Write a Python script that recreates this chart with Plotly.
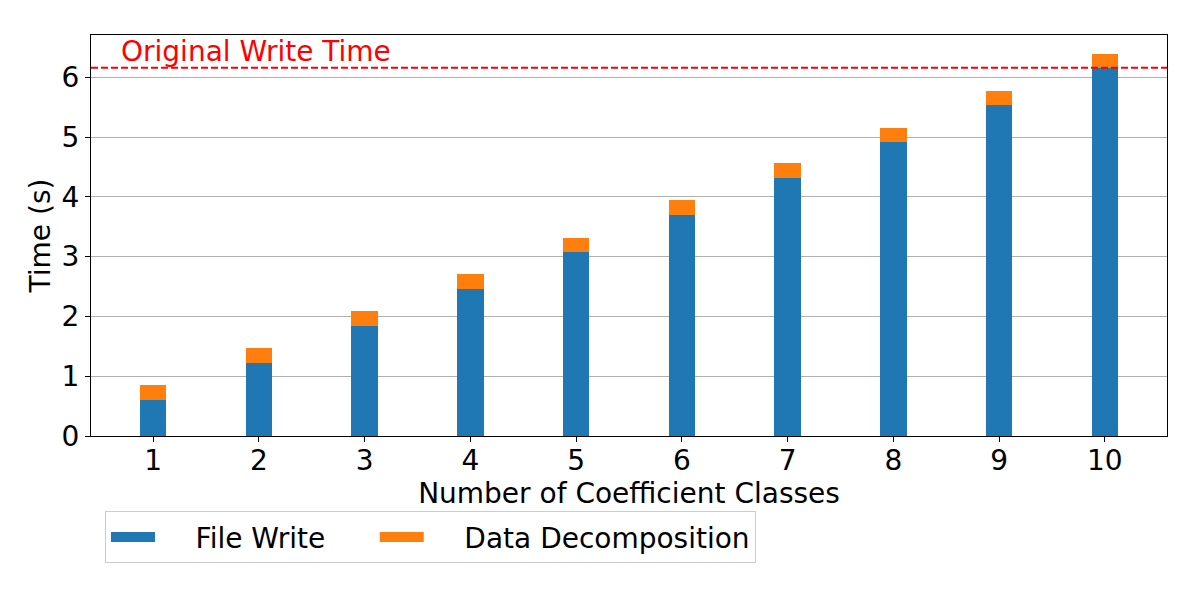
import plotly.graph_objects as go

classes = [1, 2, 3, 4, 5, 6, 7, 8, 9, 10]
file_write = [0.61, 1.22, 1.84, 2.46, 3.07, 3.69, 4.31, 4.92, 5.54, 6.15]
data_decomp = [0.25, 0.25, 0.25, 0.25, 0.25, 0.25, 0.25, 0.235, 0.235, 0.24]
original_write_time = 6.16
tick_labels = [str(c) for c in classes]
series_names = ["File Write", "Data Decomposition"]
series_colors = ["#1f77b4", "#ff7f0e"]

FONT = "DejaVu Sans"
LEAD = "\u00a0" * 4
PAD = "\u00a0" * 5

fig = go.Figure()
fig.add_trace(go.Bar(x=classes, y=file_write, name=series_names[0], legendgroup="fw",
                     showlegend=False,
                     marker=dict(color=series_colors[0], line=dict(width=0)), width=0.25))
fig.add_trace(go.Bar(x=classes, y=data_decomp, name=series_names[1], legendgroup="dd",
                     showlegend=False,
                     marker=dict(color=series_colors[1], line=dict(width=0)), width=0.25))
# legend handles drawn as wide patches (matplotlib style)
fig.add_trace(go.Scatter(x=[None], y=[None], mode="lines", legendgroup="fw",
                         name=LEAD + series_names[0] + PAD,
                         line=dict(color=series_colors[0], width=18)))
fig.add_trace(go.Scatter(x=[None], y=[None], mode="lines", legendgroup="dd",
                         name=LEAD + series_names[1],
                         line=dict(color=series_colors[1], width=18)))

fig.add_shape(type="line", xref="paper", yref="y", x0=0, x1=1,
              y0=original_write_time, y1=original_write_time,
              line=dict(color="red", width=2, dash="7px,3px"))
fig.add_annotation(xref="paper", yref="y", x=0.026, y=original_write_time,
                   text="Original Write Time", showarrow=False,
                   xanchor="left", yanchor="bottom", yshift=-2,
                   font=dict(color="red", size=28, family=FONT))

fig.update_layout(
    barmode="stack",
    width=1200, height=600,
    margin=dict(l=91, r=33, t=35, b=164, autoexpand=False),
    plot_bgcolor="white", paper_bgcolor="white",
    font=dict(family=FONT, size=28, color="black"),
    legend=dict(orientation="h", x=0.013, y=-0.188, xanchor="left", yanchor="top",
                bordercolor="#cccccc", borderwidth=1, font=dict(size=28, family=FONT),
                traceorder="normal", itemwidth=44),
    bargap=0.75,
)
fig.update_xaxes(range=[0.4125, 10.5875], tickmode="array", tickvals=classes,
                 ticktext=tick_labels, ticks="outside", ticklen=5, tickwidth=1.1,
                 tickcolor="black", showline=True, linecolor="black", linewidth=1.1,
                 mirror=True, showgrid=False, zeroline=False, automargin=False,
                 ticklabelstandoff=-6,
                 title=dict(text="Number of Coefficient Classes", standoff=0,
                            font=dict(size=28, family=FONT)),
                 tickfont=dict(size=28, family=FONT))
fig.update_yaxes(range=[0, 6.707], tickmode="array", tickvals=[0, 1, 2, 3, 4, 5, 6],
                 ticks="outside", ticklen=5, tickwidth=1.1, tickcolor="black",
                 showline=True, linecolor="black", linewidth=1.1, mirror=True,
                 showgrid=True, gridcolor="#b0b0b0", gridwidth=1, zeroline=False,
                 automargin=False,
                 title=dict(text="Time (s)", standoff=2, font=dict(size=28, family=FONT)),
                 tickfont=dict(size=28, family=FONT))

fig.write_html("out.html", config={"displayModeBar": False},
               post_script="document.body.style.margin='0';")
